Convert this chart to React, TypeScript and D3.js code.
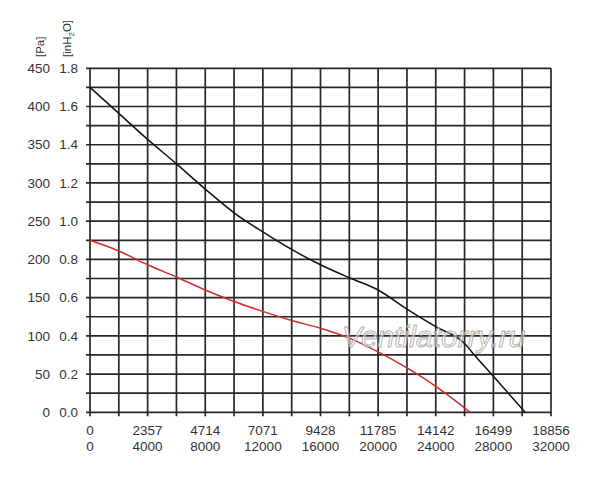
import React from "react";
import * as d3 from "d3";

const flowTicksCFM = ["0", "2357", "4714", "7071", "9428", "11785", "14142", "16499", "18856"];
const flowTicksM3h = ["0", "4000", "8000", "12000", "16000", "20000", "24000", "28000", "32000"];
const paTicks = [0, 50, 100, 150, 200, 250, 300, 350, 400, 450];
const inH2OTicks = ["0.0", "0.2", "0.4", "0.6", "0.8", "1.0", "1.2", "1.4", "1.6", "1.8"];

// Black curve: flow (m³/h) vs static pressure (Pa)
const blackFlow = [0, 2000, 4000, 6000, 8000, 10000, 12000, 14000, 16000, 18000, 20000, 22000, 24000, 26000, 26500, 28000, 30200];
const blackPa = [425, 391, 357, 325, 292, 261, 236, 213, 193, 176, 160, 135, 112, 90, 79, 47, 0];

// Red curve
const redFlow = [0, 2000, 4000, 6000, 8000, 10000, 12000, 14000, 16000, 18000, 20000, 22000, 24000, 26400];
const redPa = [225, 211, 193, 177, 160, 145, 132, 120, 110, 97, 79, 58, 34, 0];

const W = 600;
const H = 478;
const font = "'Liberation Sans', Arial, sans-serif";

export default function App() {
  const x = d3.scaleLinear().domain([0, 32000]).range([90, 551]);
  const y = d3.scaleLinear().domain([0, 450]).range([412.3, 68.3]);

  const hGrid = d3.range(0, 451, 25);
  const vGrid = d3.range(0, 32001, 2000);
  const majorX = d3.range(0, 32001, 4000);

  const line = d3
    .line<[number, number]>()
    .x((d) => x(d[0]))
    .y((d) => y(d[1]))
    .curve(d3.curveMonotoneX);

  const blackData: [number, number][] = blackFlow.map((f, i) => [f, blackPa[i]]);
  const redData: [number, number][] = redFlow.map((f, i) => [f, redPa[i]]);

  const gridColor = "#2b2626";
  const textColor = "#333";

  return (
    <svg
      width={W}
      height={H}
      style={{ position: "absolute", left: 0, top: 0, background: "#fff" }}
      fontFamily={font}
    >
      <rect x={0} y={0} width={W} height={H} fill="#fff" />
      {/* grid */}
      {hGrid.map((v) => (
        <line key={"h" + v} x1={x(0) - 4} x2={x(32000)} y1={y(v)} y2={y(v)} stroke={gridColor} strokeWidth={1.7} />
      ))}
      {vGrid.map((v) => (
        <line key={"v" + v} x1={x(v)} x2={x(v)} y1={y(450)} y2={y(0) + 4} stroke={gridColor} strokeWidth={1.7} />
      ))}

      {/* curves */}
      <path d={line(redData) || ""} fill="none" stroke="#d42a2a" strokeWidth={1.5} />
      <path d={line(blackData) || ""} fill="none" stroke="#111" strokeWidth={1.5} />

      {/* watermark */}
      <text
        x={342}
        y={347}
        fontSize={30}
        fontStyle="italic"
        fill="rgba(255,255,255,0.55)"
        stroke="rgba(150,150,150,0.75)"
        strokeWidth={1}
      >
        Ventilatorry.ru
      </text>

      {/* y labels */}
      {paTicks.map((v) => (
        <text key={"pa" + v} x={50} y={y(v)} dy="0.35em" fontSize={13.5} textAnchor="end" fill={textColor}>
          {v}
        </text>
      ))}
      {inH2OTicks.map((t, i) => (
        <text key={"in" + t} x={78} y={y(paTicks[i])} dy="0.35em" fontSize={13.5} textAnchor="end" fill={textColor}>
          {t}
        </text>
      ))}

      {/* axis unit labels */}
      <text transform="translate(44,57) rotate(-90)" fontSize={11.5} textAnchor="start" fill={textColor}>
        [Pa]
      </text>
      <text transform="translate(71,57) rotate(-90)" fontSize={11.5} textAnchor="start" fill={textColor}>
        [inH
        <tspan fontSize={8} dy={3}>2</tspan>
        <tspan dy={-3}>O]</tspan>
      </text>

      {/* x labels */}
      {majorX.map((v, i) => (
        <g key={"x" + v}>
          <text x={x(v)} y={430} dy="0.35em" fontSize={13.5} textAnchor="middle" fill={textColor}>
            {flowTicksCFM[i]}
          </text>
          <text x={x(v)} y={446} dy="0.35em" fontSize={13.5} textAnchor="middle" fill={textColor}>
            {flowTicksM3h[i]}
          </text>
        </g>
      ))}
    </svg>
  );
}
